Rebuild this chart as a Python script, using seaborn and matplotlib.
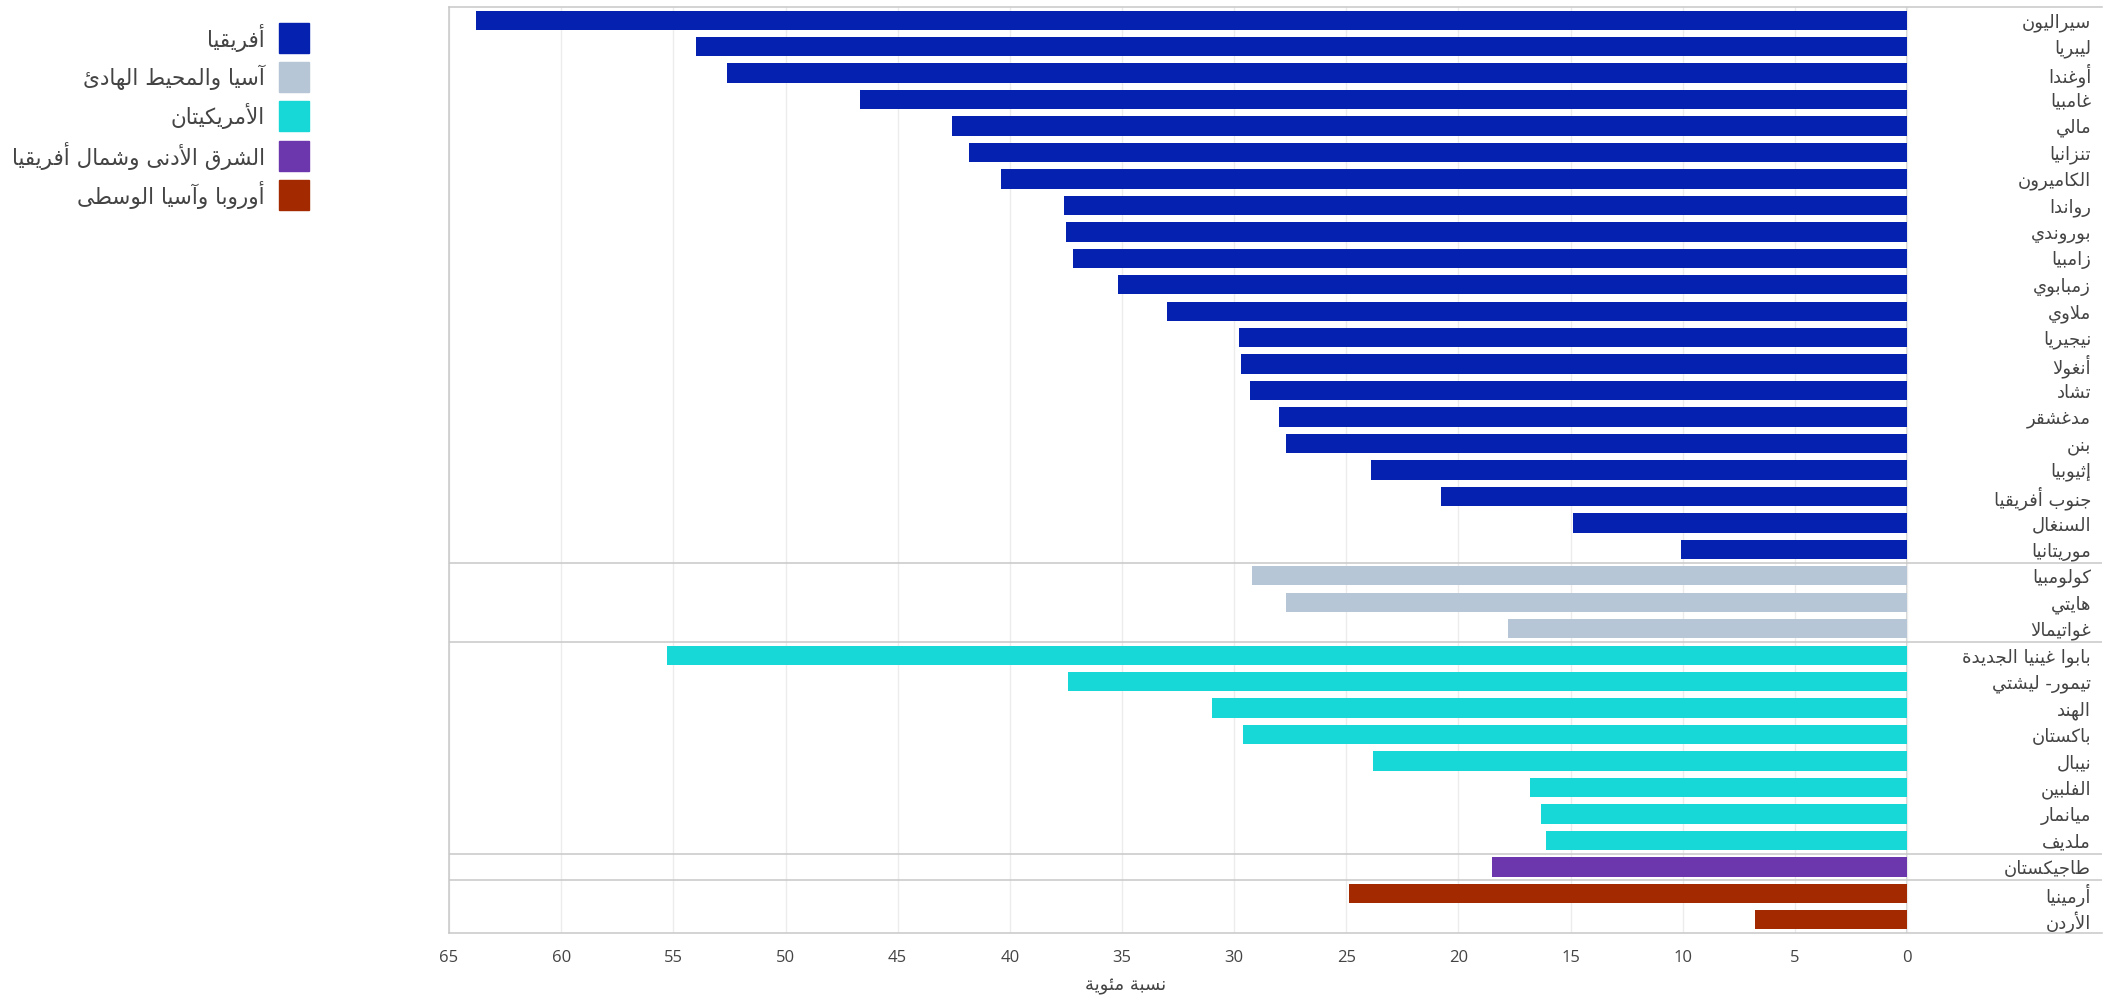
import pandas as pd
import matplotlib
matplotlib.use("Agg")
import matplotlib.pyplot as plt
from matplotlib.patches import Rectangle
import seaborn as sns

# --- data (percent) ---
countries = [
    "سيراليون", "ليبريا", "أوغندا", "غامبيا", "مالي", "تنزانيا", "الكاميرون",
    "رواندا", "بوروندي", "زامبيا", "زمبابوي", "ملاوي", "نيجيريا", "أنغولا",
    "تشاد", "مدغشقر", "بنن", "إثيوبيا", "جنوب أفريقيا", "السنغال", "موريتانيا",
    "كولومبيا", "هايتي", "غواتيمالا",
    "بابوا غينيا الجديدة", "تيمور- ليشتي", "الهند", "باكستان", "نيبال",
    "الفلبين", "ميانمار", "ملديف",
    "طاجيكستان",
    "أرمينيا", "الأردن",
]
values = [
    63.8, 54.0, 52.6, 46.7, 42.6, 41.8, 40.4,
    37.6, 37.5, 37.2, 35.2, 33.0, 29.8, 29.7,
    29.3, 28.0, 27.7, 23.9, 20.8, 14.9, 10.1,
    29.2, 27.7, 17.8,
    55.3, 37.4, 31.0, 29.6, 23.8,
    16.8, 16.3, 16.1,
    18.5,
    24.9, 6.8,
]
region_names = [
    "أفريقيا",
    "آسيا والمحيط الهادئ",
    "الأمريكيتان",
    "الشرق الأدنى وشمال أفريقيا",
    "أوروبا وآسيا الوسطى",
]
region_sizes = [21, 3, 8, 1, 2]
region_colors = ["#0421b0", "#b7c6d6", "#17d7d7", "#6c36ad", "#a32a00"]
x_ticks = [65, 60, 55, 50, 45, 40, 35, 30, 25, 20, 15, 10, 5, 0]
x_title = "نسبة مئوية"

# --- minimal arabic shaping: matplotlib draws glyphs left to right, unjoined ---
FORMS = {
    "ء": (0xFE80, 1), "آ": (0xFE81, 2), "أ": (0xFE83, 2), "ؤ": (0xFE85, 2),
    "إ": (0xFE87, 2), "ئ": (0xFE89, 4), "ا": (0xFE8D, 2), "ب": (0xFE8F, 4),
    "ة": (0xFE93, 2), "ت": (0xFE95, 4), "ث": (0xFE99, 4), "ج": (0xFE9D, 4),
    "ح": (0xFEA1, 4), "خ": (0xFEA5, 4), "د": (0xFEA9, 2), "ذ": (0xFEAB, 2),
    "ر": (0xFEAD, 2), "ز": (0xFEAF, 2), "س": (0xFEB1, 4), "ش": (0xFEB5, 4),
    "ص": (0xFEB9, 4), "ض": (0xFEBD, 4), "ط": (0xFEC1, 4), "ظ": (0xFEC5, 4),
    "ع": (0xFEC9, 4), "غ": (0xFECD, 4), "ف": (0xFED1, 4), "ق": (0xFED5, 4),
    "ك": (0xFED9, 4), "ل": (0xFEDD, 4), "م": (0xFEE1, 4), "ن": (0xFEE5, 4),
    "ه": (0xFEE9, 4), "و": (0xFEED, 2), "ى": (0xFEEF, 2), "ي": (0xFEF1, 4),
}
LAM_ALEF = {"آ": 0xFEF5, "أ": 0xFEF7, "إ": 0xFEF9, "ا": 0xFEFB}


def shape(text):
    out = []
    i = 0
    while i < len(text):
        c = text[i]
        if c not in FORMS:
            out.append(c)
            i += 1
            continue
        prev = text[i - 1] if i > 0 else None
        joins_prev = prev in FORMS and FORMS[prev][1] == 4
        nxt = text[i + 1] if i + 1 < len(text) else None
        if c == "ل" and nxt in LAM_ALEF:
            out.append(chr(LAM_ALEF[nxt] + (1 if joins_prev else 0)))
            i += 2
            continue
        base, n = FORMS[c]
        joins_next = n == 4 and nxt in FORMS
        if n == 1:
            form = 0
        elif joins_prev and joins_next:
            form = 3
        elif joins_next:
            form = 2
        elif joins_prev:
            form = 1
        else:
            form = 0
        out.append(chr(base + form))
        i += 1
    return "".join(reversed(out))


regions = [name for name, k in zip(region_names, region_sizes) for _ in range(k)]
df = pd.DataFrame({"country": countries, "value": values, "region": regions})

sns.set_style("white")
plt.rcParams["font.family"] = ["DejaVu Sans"]
text_color = "#444444"
line_color = "#c8c8c8"

fig = plt.figure(figsize=(21.12, 9.97), dpi=100)
ax = fig.add_axes([0.2126, 0.0642, 0.7827, 0.9288])

sns.barplot(
    data=df, x="value", y="country", hue="region", order=countries,
    hue_order=region_names, palette=dict(zip(region_names, region_colors)),
    dodge=False, width=0.73, saturation=1, linewidth=0, legend=False, ax=ax,
)

ax.set_xlim(65, -8.69)
ax.set_ylim(len(countries) - 0.5, -0.5)
ax.set_xticks(x_ticks)
ax.set_xticklabels([str(t) for t in x_ticks], fontfamily="Open Sans")
ax.set_yticks([])
ax.set_ylabel("")
ax.tick_params(axis="x", length=0, pad=12, labelsize=12, labelcolor=text_color)
ax.set_axisbelow(True)
ax.xaxis.grid(True, color="#ececec", linewidth=1)
ax.axvline(0, color=line_color, linewidth=1.1, zorder=0.5)

for side in ["top", "bottom", "left"]:
    ax.spines[side].set_color(line_color)
    ax.spines[side].set_linewidth(1.1)
ax.spines["right"].set_visible(False)

# group separators
edge = 0
for k in region_sizes[:-1]:
    edge += k
    ax.axhline(edge - 0.5, color=line_color, linewidth=1.1)

# country names to the right of zero
for i, name in enumerate(countries):
    ax.text(-8.2, i + 0.08, shape(name), ha="right", va="center",
            fontsize=13, color=text_color)

ax.set_xlabel(shape(x_title), fontsize=13, color=text_color)
ax.xaxis.set_label_coords(0.409, -0.048)

# legend, squares to the right of the labels
for j, (name, col) in enumerate(zip(region_names, region_colors)):
    yc = 1 - (38 + 39.2 * j) / 997
    fig.patches.append(Rectangle((279 / 2112, yc - 15 / 997), 30 / 2112, 30 / 997,
                                 transform=fig.transFigure, color=col))
    fig.text(265 / 2112, yc, shape(name), ha="right", va="center",
             fontsize=15.5, color=text_color)

fig.savefig("out.png", dpi=100)
plt.close(fig)
